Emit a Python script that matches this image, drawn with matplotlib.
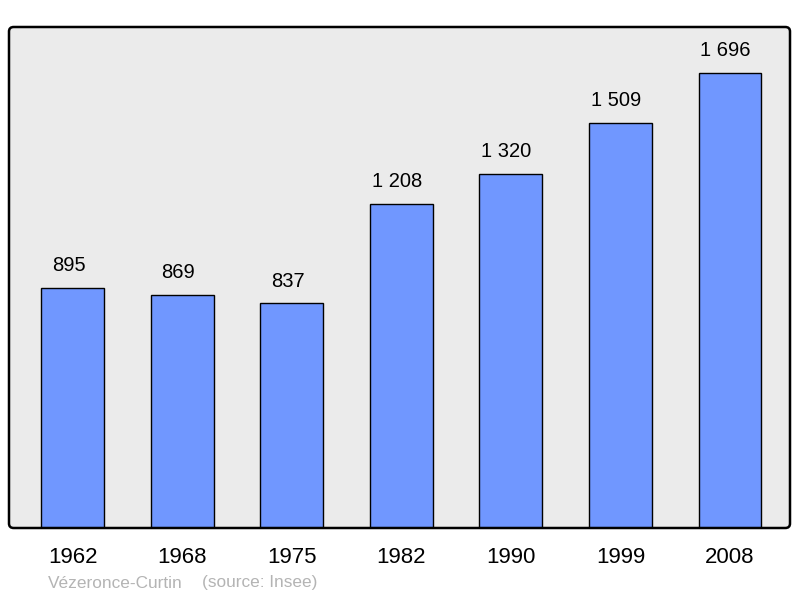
import matplotlib
matplotlib.use("Agg")
import matplotlib.pyplot as plt
from matplotlib.patches import FancyBboxPatch

years = ["1962", "1968", "1975", "1982", "1990", "1999", "2008"]
population = [895, 869, 837, 1208, 1320, 1509, 1696]
value_labels = ["895", "869", "837", "1 208", "1 320", "1 509", "1 696"]
commune = "Vézeronce-Curtin"
source = "(source: Insee)"

plt.rcParams['font.family'] = ['Liberation Sans', 'DejaVu Sans']

fig = plt.figure(figsize=(8.0, 5.98), dpi=100)
W, H = 800, 598
left, right, top, bottom = 9, 790, 27, 528
ax = fig.add_axes([left / W, 1 - bottom / H, (right - left) / W, (bottom - top) / H])
ax.set_facecolor("none")
for s in ax.spines.values():
    s.set_visible(False)

x = list(range(len(years)))
ax.bar(x, population, width=0.575, color="#7097FF", edgecolor="black", linewidth=1.0, zorder=2)
ax.set_xlim(-0.584, 6.548)
ax.set_ylim(0, max(population) * 1.1)

bg = FancyBboxPatch((0, 0), 1, 1, boxstyle="round,pad=0,rounding_size=0.006",
                    transform=ax.transAxes, facecolor="#EBEBEB", edgecolor="none",
                    zorder=0, clip_on=False, mutation_aspect=1.5)
ax.add_patch(bg)
border = FancyBboxPatch((0, 0), 1, 1, boxstyle="round,pad=0,rounding_size=0.006",
                        transform=ax.transAxes, facecolor="none", edgecolor="black",
                        linewidth=1.8, zorder=4, clip_on=False, mutation_aspect=1.5)
ax.add_patch(border)

for xi, v, lab in zip(x, population, value_labels):
    ax.annotate(lab, (xi, v), xytext=(-3.2, 15.8), textcoords="offset points",
                ha="center", va="center", fontsize=14.5, color="black")

ax.set_xticks(x)
ax.set_xticklabels(years, fontsize=16)
ax.tick_params(axis="x", length=0, pad=14)
ax.set_yticks([])

fig.text(48 / W, 1 - 583 / H, commune, fontsize=12.4, color="#B4B4B4", ha="left", va="center")
fig.text(202 / W, 1 - 583 / H, source, fontsize=12.4, color="#B4B4B4", ha="left", va="center")

fig.savefig("out.png", dpi=100)
